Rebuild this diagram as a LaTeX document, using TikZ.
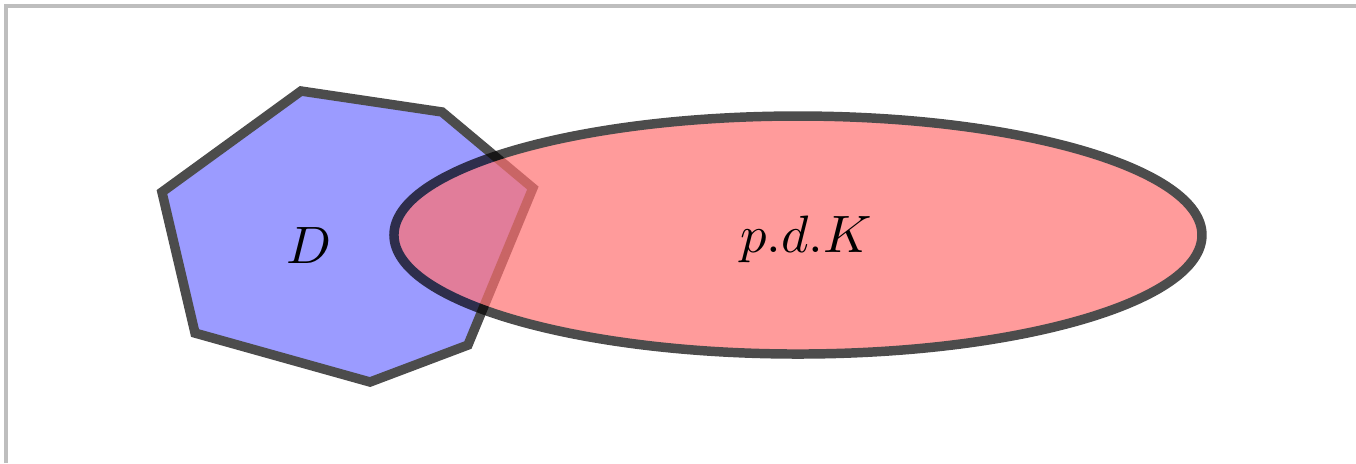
\documentclass[tikz,border=0pt]{standalone}
\usepackage{amsmath,amssymb}
\usepackage{xcolor}
\usepackage{tikz}
\definecolor{frameGrey}{RGB}{190,190,190}
\definecolor{cDom}{RGB}{112,112,255}
\definecolor{cPdk}{RGB}{255,112,112}
\tikzset{region/.style={draw=black,line width=1.8pt,line join=miter}}

\begin{document}
\begin{tikzpicture}
  \useasboundingbox (0,0) rectangle (9.059,3.093);
  % screenshot frame (top and left only)
  \draw[frameGrey,line width=0.6pt] (0.04,0) -- (0.04,3.053) -- (9.059,3.053);
  % heptagon vertices
  \coordinate (H1) at (2.011,2.485);
  \coordinate (H2) at (2.953,2.345);
  \coordinate (H3) at (3.560,1.837);
  \coordinate (H4) at (3.126,0.788);
  \coordinate (H5) at (2.472,0.541);
  \coordinate (H6) at (1.303,0.868);
  \coordinate (H7) at (1.082,1.810);
  % the domain D
  \begin{scope}[transparency group,opacity=0.7]
    \filldraw[region,fill=cDom] (H1) -- (H2) -- (H3) -- (H4) -- (H5) -- (H6) -- (H7) -- cycle;
  \end{scope}
  % the ellipse p.d.K
  \coordinate (E) at (5.331,1.523);
  \begin{scope}[transparency group,opacity=0.7]
    \filldraw[region,fill=cPdk] (E) ellipse [x radius=2.699,y radius=0.795];
  \end{scope}
  % labels
  \node[anchor=base] (Dlab) at (2.064,1.336) {$D$};
  \node[anchor=base] (Klab) at (5.384,1.409) {$p.d.K$};
\end{tikzpicture}
\end{document}
